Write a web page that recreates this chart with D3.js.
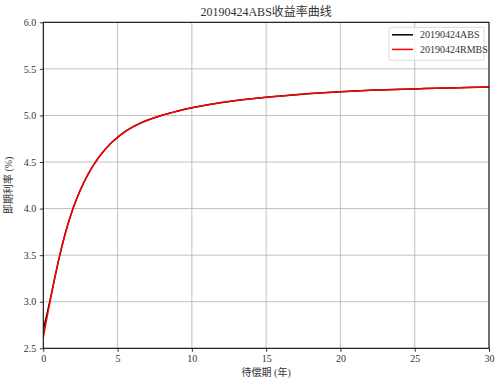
<!DOCTYPE html>
<html>
<head>
<meta charset="utf-8">
<script src="https://cdn.jsdelivr.net/npm/d3@7"></script>
<style>
    body { margin: 0; background: #fff; }
    svg text { font-family: "Liberation Serif", "Noto Sans CJK SC", serif; }
</style>
</head>
<body>
<svg id="drawing_region"></svg>
<script>
// maturity (years)
const maturity = [0, 0.25, 0.5, 0.75, 1, 1.5, 2, 2.5, 3, 3.5, 4, 4.5, 5, 5.5, 6, 7, 8, 9, 10, 12, 14, 16, 18, 20, 22, 25, 28, 30];
// spot rate (%)
const absRate  = [2.70, 2.87, 3.05, 3.24, 3.425, 3.746, 4.00, 4.202, 4.365, 4.497, 4.605, 4.694, 4.765, 4.825, 4.874, 4.948, 5.003, 5.046, 5.082, 5.14, 5.18, 5.21, 5.235, 5.255, 5.27, 5.285, 5.298, 5.305];
const rmbsRate = [2.62, 2.833, 3.04, 3.239, 3.425, 3.746, 4.00, 4.202, 4.365, 4.497, 4.605, 4.694, 4.765, 4.825, 4.874, 4.948, 5.003, 5.046, 5.082, 5.14, 5.18, 5.21, 5.235, 5.255, 5.27, 5.285, 5.298, 5.305];
const seriesNames = ["20190424ABS", "20190424RMBS"];
const seriesColors = ["#000000", "#ff0000"];
const xTicks = [0, 5, 10, 15, 20, 25, 30];
const yTicks = [2.5, 3.0, 3.5, 4.0, 4.5, 5.0, 5.5, 6.0];

const titleText = "20190424ABS收益率曲线";
const xLabel = "待偿期 (年)";
const yLabel = "即期利率 (%)";

class LineChart {
    constructor(config) {
        this.config = config;
        this.series = [absRate, rmbsRate].map((vals, i) => ({
            name: seriesNames[i],
            color: seriesColors[i],
            values: maturity.map((m, j) => ({x: m, y: vals[j]}))
        }));
        this.init();
    }

    init() {
        let self = this;
        self.svg = d3.select(self.config.parent)
            .attr('width', self.config.width)
            .attr('height', self.config.height);

        self.chart = self.svg.append('g')
            .attr('transform', `translate(${self.config.margin.left}, ${self.config.margin.top})`);

        self.inner_width = self.config.width - self.config.margin.left - self.config.margin.right;
        self.inner_height = self.config.height - self.config.margin.top - self.config.margin.bottom;

        self.xscale = d3.scaleLinear().domain([0, 30]).range([0, self.inner_width]);
        self.yscale = d3.scaleLinear().domain([2.5, 6.0]).range([self.inner_height, 0]);
    }

    render() {
        let self = this;

        // grid
        self.chart.append('g').selectAll('line')
            .data(xTicks).enter().append('line')
            .attr('x1', d => self.xscale(d)).attr('x2', d => self.xscale(d))
            .attr('y1', 0).attr('y2', self.inner_height)
            .attr('stroke', '#b0b0b0').attr('stroke-width', 0.8);
        self.chart.append('g').selectAll('line')
            .data(yTicks).enter().append('line')
            .attr('y1', d => self.yscale(d)).attr('y2', d => self.yscale(d))
            .attr('x1', 0).attr('x2', self.inner_width)
            .attr('stroke', '#b0b0b0').attr('stroke-width', 0.8);

        // lines
        const line = d3.line()
            .x(d => self.xscale(d.x))
            .y(d => self.yscale(d.y))
            .curve(d3.curveMonotoneX);

        self.chart.append('defs').append('clipPath').attr('id', 'clip')
            .append('rect').attr('width', self.inner_width).attr('height', self.inner_height);

        self.chart.append('g').attr('clip-path', 'url(#clip)')
            .selectAll('path')
            .data(self.series).enter().append('path')
            .attr('d', d => line(d.values))
            .attr('fill', 'none')
            .attr('stroke', d => d.color)
            .attr('stroke-width', 1.5);

        // frame
        self.chart.append('rect')
            .attr('width', self.inner_width).attr('height', self.inner_height)
            .attr('fill', 'none').attr('stroke', '#000').attr('stroke-width', 1);

        // axes
        const xaxis = d3.axisBottom(self.xscale).tickValues(xTicks).tickSize(3.5).tickPadding(3.5)
            .tickFormat(d3.format('d')).tickSizeOuter(0);
        const yaxis = d3.axisLeft(self.yscale).tickValues(yTicks).tickSize(3.5).tickPadding(3.5)
            .tickFormat(d3.format('.1f')).tickSizeOuter(0);

        const xg = self.chart.append('g')
            .attr('transform', `translate(0, ${self.inner_height})`)
            .call(xaxis);
        const yg = self.chart.append('g').call(yaxis);
        [xg, yg].forEach(g => {
            g.select('.domain').remove();
            g.selectAll('.tick line').attr('stroke', '#000').attr('stroke-width', 0.8);
            g.selectAll('.tick text')
                .attr('fill', '#333')
                .attr('font-size', '10px')
                .style('font-family', '"Liberation Serif", serif');
        });

        // title & labels
        self.chart.append('text')
            .attr('x', self.inner_width / 2).attr('y', -6)
            .attr('text-anchor', 'middle')
            .attr('font-size', '12px').attr('fill', '#333')
            .text(titleText);

        self.chart.append('text')
            .attr('x', self.inner_width / 2).attr('y', self.inner_height + 28)
            .attr('text-anchor', 'middle')
            .attr('font-size', '10px').attr('fill', '#333')
            .text(xLabel);

        self.chart.append('text')
            .attr('transform', 'rotate(-90)')
            .attr('x', -self.inner_height / 2).attr('y', -31)
            .attr('text-anchor', 'middle')
            .attr('font-size', '10px').attr('fill', '#333')
            .text(yLabel);

        // legend
        const lg = self.chart.append('g')
            .attr('transform', `translate(${self.inner_width - 100}, 5)`);
        lg.append('rect')
            .attr('width', 95).attr('height', 33).attr('rx', 2)
            .attr('fill', '#fff').attr('fill-opacity', 0.8)
            .attr('stroke', '#d0d0d0').attr('stroke-width', 0.8);
        const items = lg.selectAll('g.item')
            .data(self.series).enter().append('g')
            .attr('transform', (d, i) => `translate(0, ${7.5 + i * 14.6})`);
        items.append('line')
            .attr('x1', 3).attr('x2', 24)
            .attr('stroke', d => d.color).attr('stroke-width', 1.5);
        items.append('text')
            .attr('x', 31).attr('y', 3.5)
            .attr('font-size', '10px').attr('fill', '#333')
            .style('font-family', '"Liberation Serif", serif')
            .text(d => d.name);
    }
}

const chart = new LineChart({
    parent: '#drawing_region',
    width: 501,
    height: 386,
    margin: {top: 22.3, right: 12, bottom: 37.7, left: 43.3}
});
chart.render();
</script>
</body>
</html>
